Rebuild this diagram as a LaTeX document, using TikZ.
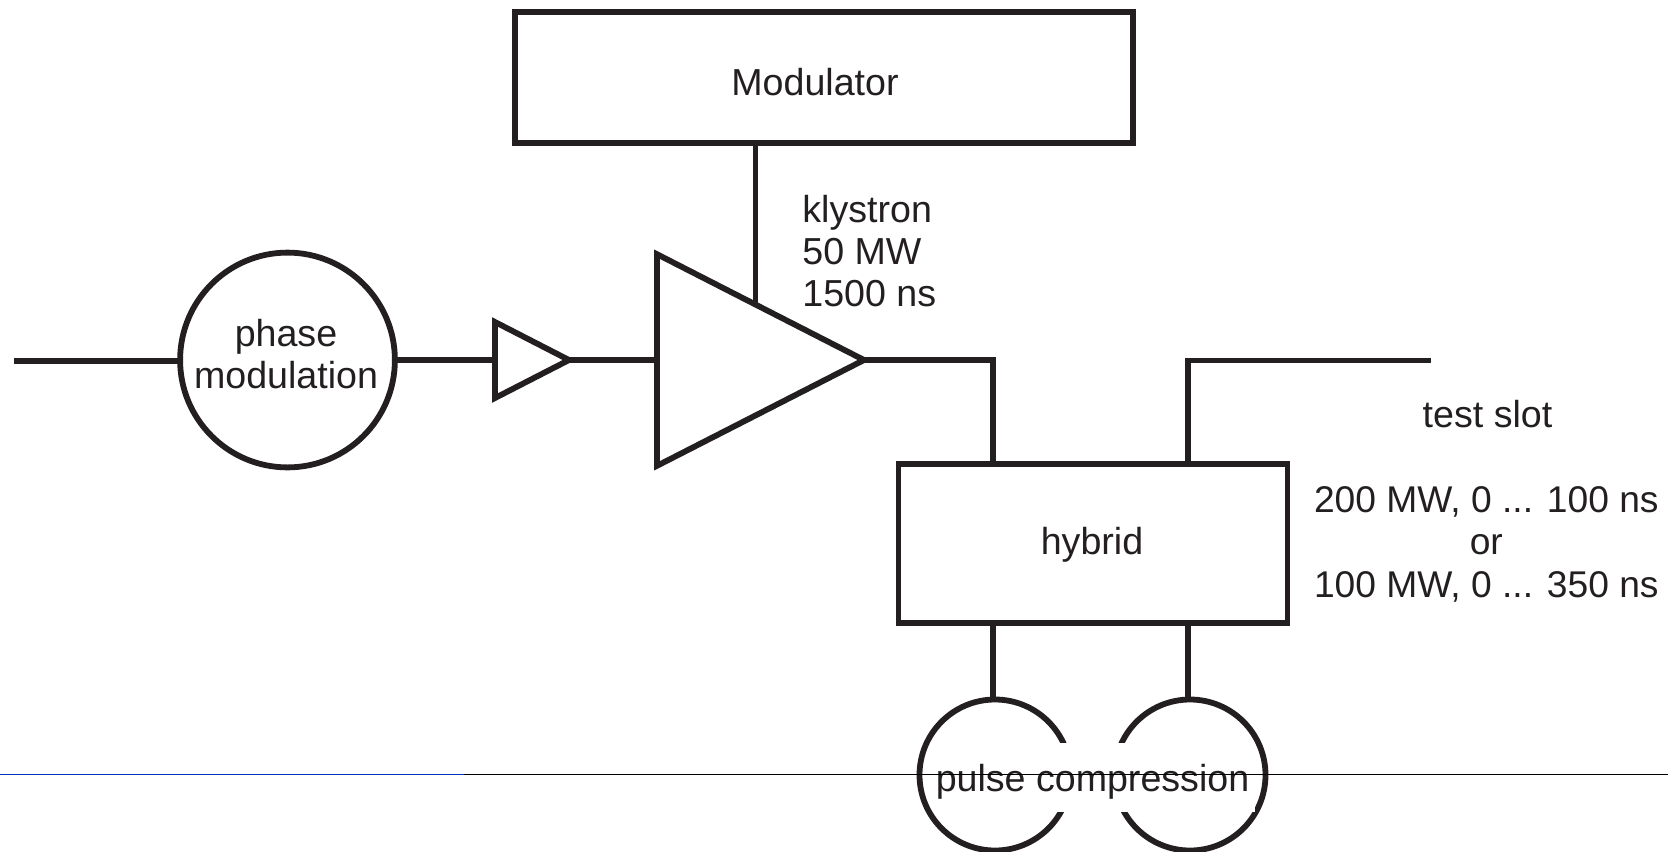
\documentclass[tikz,border=0pt]{standalone}
\usepackage{fontspec}
\setmainfont{Liberation Sans}
\usetikzlibrary{shapes.geometric}
\definecolor{ink}{HTML}{231F20}
\definecolor{rulefront}{HTML}{0030C0}
\tikzset{
  wire/.style={draw=ink,line width=2.9pt,line cap=butt},
  boxnode/.style={rectangle,draw=ink,line width=2.9pt,inner sep=0pt,outer sep=0pt,fill=white},
  roundnode/.style={circle,draw=ink,line width=2.9pt,inner sep=0pt,outer sep=0pt},
  ampnode/.style={isosceles triangle,isosceles triangle stretches,shape border rotate=0,draw=ink,line width=2.9pt,inner sep=0pt,outer sep=0pt,fill=white,anchor=apex,miter limit=10},
  lbl/.style={text=ink,font=\fontsize{18.8}{21.2}\selectfont,inner sep=0pt,align=center},
  lbll/.style={lbl,align=left},
  hair/.style={line width=0.55pt}
}
\begin{document}
\begin{tikzpicture}[x=0.5pt,y=-0.5pt]
\useasboundingbox (0,0) rectangle (1668,851);
% coordinates for free ends and tap points
\coordinate (in) at (14,361);
\coordinate (m1) at (755.5,141.5);
\coordinate (k1) at (755.5,305);
\coordinate (h1) at (993,463);
\coordinate (h2) at (1188,463);
\coordinate (out) at (1431,360.5);
\coordinate (h3) at (993,624);
\coordinate (h4) at (1188,624);
\coordinate (c1) at (993,699);
\coordinate (c2) at (1188,699);
\coordinate (ruleL) at (0,774.5);
\coordinate (ruleM) at (464,774.5);
\coordinate (ruleR) at (1668,774.5);
% shapes
\node[boxnode,minimum width=309.3pt,minimum height=65.7pt] (mod) at (824,77.5) {};
\node[roundnode,minimum size=107.4pt] (pm) at (287.5,360) {};
\node[ampnode,minimum width=38pt,minimum height=37pt] (pre) at (569,360) {};
\node[ampnode,minimum width=105.8pt,minimum height=103.5pt] (kly) at (864,360) {};
\node[boxnode,minimum width=194.5pt,minimum height=79.5pt] (hyb) at (1093,543.5) {};
\node[roundnode,minimum size=75.5pt] (pc1) at (995,775) {};
\node[roundnode,minimum size=75.5pt] (pc2) at (1190,775) {};
% connectors
\draw[wire] (m1) -- (k1);
\draw[wire,line width=3.2pt] (in) -- (pm.west |- in);
\draw[wire] (pm.east) -- (pre.lower side);
\draw[wire] (pre.apex) -- (kly.lower side);
\draw[wire] (kly.apex) -| (h1);
\draw[wire] (h2) |- (out);
\draw[wire] (h3) -- (c1);
\draw[wire] (h4) -- (c2);
% labels
\node[lbl] (modtext) at (815,82) {Modulator};
\node[lbll,anchor=west] (klytext) at (802,251) {klystron\\50 MW\\1500 ns};
\node[lbl] (pmtext) at (286,354) {phase\\modulation};
\node[lbl] (hybtext) at (1092,545) {hybrid};
\node[lbl] (slottext) at (1487.5,414) {test slot};
\node[lbl,font=\fontsize{18.6}{21.2}\selectfont] (powertext) at (1486.3,544) {200 MW, 0 ... 100 ns\\or\\100 MW, 0 ... 350 ns};
\node[lbl,fill=white,minimum width=159.5pt,minimum height=34.5pt] (pcbox) at (1095.5,777.5) {};
\node[lbl] (pctext) at (1092.5,781.5) {pulse compression};
% rule across the page
\draw[hair,rulefront] (ruleL) -- (ruleM);
\draw[hair,black] (ruleM) -- (ruleR);
\end{tikzpicture}
\end{document}
